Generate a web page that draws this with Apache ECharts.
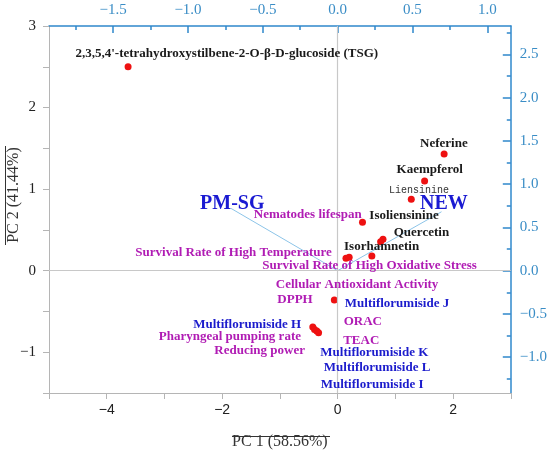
<!DOCTYPE html>
<html lang="en">
<head>
  <meta charset="UTF-8">
  <title>PCA biplot</title>
  <style>
    html, body { margin:0; padding:0; background:#fff; }
    #biplot { width:550px; height:457px; }
  </style>
</head>
<body>
  <div id="biplot"></div>
  <script src="https://cdn.jsdelivr.net/npm/echarts@6/dist/echarts.min.js"></script>
  <script>
    // sample scores (PC1, PC2) - red dots
    var scores = [
      [-3.63, 2.50], [1.845, 1.43], [1.507, 1.10], [1.276, 0.876],
      [0.431, 0.594], [0.786, 0.385], [0.745, 0.356], [0.593, 0.18],
      [0.145, 0.152], [0.20, 0.164], [-0.057, -0.36],
      [-0.43, -0.69], [-0.40, -0.72], [-0.36, -0.74], [-0.33, -0.76]
    ]
    // loading vectors, read on the top / right axes
    var pmsgLoading = [[0, 0], [-0.713, 0.72]]
    var newLoading = [[0, 0], [0.694, 0.681]]

    // label anchors [PC1, PC2, text]
    var blackLabels = [
      [-1.92, 2.667, "2,3,5,4'-tetrahydroxystilbene-2-O-β-D-glucoside (TSG)"],
      [1.84, 1.554, 'Neferine'],
      [1.595, 1.244, 'Kaempferol'],
      [1.15, 0.671, 'Isoliensinine'],
      [1.452, 0.466, 'Quercetin'],
      [0.762, 0.294, 'Isorhamnetin']
    ]
    var monoLabels = [[1.408, 0.99, 'Liensinine']]
    var purpleLabels = [
      [-0.517, 0.683, 'Nematodes lifespan'],
      [-1.803, 0.226, 'Survival Rate of High Temperature'],
      [0.552, 0.061, 'Survival Rate of High Oxidative Stress'],
      [0.337, -0.175, 'Cellular Antioxidant Activity'],
      [-0.738, -0.36, 'DPPH'],
      [0.437, -0.626, 'ORAC'],
      [0.409, -0.859, 'TEAC'],
      [-1.867, -0.81, 'Pharyngeal pumping rate'],
      [-1.35, -0.98, 'Reducing power']
    ]
    var blueLabels = [
      [-1.566, -0.658, 'Multiflorumiside H'],
      [1.029, -0.40, 'Multiflorumiside J'],
      [0.636, -1.00, 'Multiflorumiside K'],
      [0.684, -1.19, 'Multiflorumiside L'],
      [0.598, -1.402, 'Multiflorumiside I']
    ]
    var groupLabels = [[-1.824, 0.818, 'PM-SG'], [1.84, 0.818, 'NEW']]

    var topMajor = [-1.5, -1, -0.5, 0, 0.5, 1]
    var topMinor = [-1.75, -1.25, -0.75, -0.25, 0.25, 0.75]
    var rightMajor = [-1, -0.5, 0, 0.5, 1, 1.5, 2, 2.5]
    var rightMinor = [-1.25, -0.75, -0.25, 0.25, 0.75, 1.25, 1.75, 2.25, 2.75]

    var serif = 'Liberation Serif'
    var blueAxis = '#2f88cc'
    var blueText = '#3a8dc6'
    var gray = '#b5b5b5'

    function minus(s) { return String(s).replace('-', '\u2212') }

    function textSeries(data, style) {
      return {
        type: 'scatter',
        symbolSize: 0,
        silent: true,
        z: 5,
        itemStyle: { opacity: 1 },
        data: data,
        label: Object.assign({
          show: true,
          position: 'inside',
          formatter: function (p) { return p.data[2] },
          fontFamily: serif,
          fontWeight: 'bold',
          fontSize: 13,
          textBorderWidth: 0,
          opacity: 1
        }, style)
      }
    }

    var chart = echarts.init(document.getElementById('biplot'))
    var option = {
      animation: false,
      grid: { left: 49, right: 37, top: 26, bottom: 64 },
      xAxis: [
        {
          type: 'value', position: 'bottom', min: -5, max: 3, interval: 1,
          name: 'PC 1 (58.56%)', nameLocation: 'middle', nameGap: 41,
          nameTextStyle: { fontFamily: serif, fontSize: 16, color: '#333' },
          axisLine: { onZero: false, lineStyle: { color: gray } },
          axisTick: { length: 6, lineStyle: { color: gray } },
          axisLabel: {
            margin: 10, fontFamily: 'Liberation Sans', fontSize: 14, color: '#222',
            formatter: function (v) { return v % 2 === 0 ? minus(v) : '' }
          },
          splitLine: { show: false }
        },
        {
          type: 'value', position: 'top', min: -1.929, max: 1.157,
          axisLine: { onZero: false, lineStyle: { color: blueAxis, width: 1.5 } },
          axisTick: { inside: true, length: 7, customValues: topMajor, lineStyle: { color: blueAxis, width: 1.5 } },
          axisLabel: {
            customValues: topMajor, margin: 8, fontFamily: serif, fontSize: 15, color: blueText,
            formatter: function (v) { return minus(v.toFixed(1)) }
          },
          splitLine: { show: false }
        },
        {
          type: 'value', position: 'top', min: -1.929, max: 1.157,
          axisLine: { show: false, onZero: false },
          axisTick: { inside: true, length: 4, customValues: topMinor, lineStyle: { color: blueAxis, width: 1.5 } },
          axisLabel: { show: false },
          splitLine: { show: false }
        }
      ],
      yAxis: [
        {
          type: 'value', position: 'left', min: -1.5, max: 3, interval: 0.5,
          axisLine: { show: true, onZero: false, lineStyle: { color: gray } },
          axisTick: { show: true, length: 6, lineStyle: { color: gray } },
          axisLabel: {
            margin: 13, fontFamily: serif, fontSize: 15, color: '#222',
            formatter: function (v) { return v % 1 === 0 ? minus(v) : '' }
          },
          splitLine: { show: false }
        },
        {
          type: 'value', position: 'right', min: -1.4142, max: 2.8284,
          axisLine: { show: true, onZero: false, lineStyle: { color: blueAxis, width: 1.5 } },
          axisTick: { show: true, inside: true, length: 8, customValues: rightMajor, lineStyle: { color: blueAxis, width: 1.5 } },
          axisLabel: {
            customValues: rightMajor, margin: 9, fontFamily: serif, fontSize: 15, color: blueText,
            formatter: function (v) { return minus(v.toFixed(1)) }
          },
          splitLine: { show: false }
        },
        {
          type: 'value', position: 'right', min: -1.4142, max: 2.8284,
          axisLine: { show: false, onZero: false },
          axisTick: { show: true, inside: true, length: 4, customValues: rightMinor, lineStyle: { color: blueAxis, width: 1.5 } },
          axisLabel: { show: false },
          splitLine: { show: false }
        }
      ],
      graphic: [
        {
          type: 'text', x: 14, y: 195, rotation: Math.PI / 2,
          style: { text: 'PC 2 (41.44%)', font: '16px "Liberation Serif"', fill: '#333', align: 'center', verticalAlign: 'middle' }
        },
        { type: 'line', shape: { x1: 5.5, y1: 146, x2: 5.5, y2: 245 }, style: { stroke: '#333', lineWidth: 1 } },
        { type: 'line', shape: { x1: 232, y1: 436.5, x2: 330, y2: 436.5 }, style: { stroke: '#333', lineWidth: 1 } }
      ],
      series: [
        {
          type: 'line', xAxisIndex: 1, yAxisIndex: 1, data: pmsgLoading,
          symbol: 'none', silent: true, lineStyle: { color: '#8cc4e8', width: 1 }
        },
        {
          type: 'line', xAxisIndex: 1, yAxisIndex: 1, data: newLoading,
          symbol: 'none', silent: true, lineStyle: { color: '#8cc4e8', width: 1 }
        },
        {
          type: 'scatter', data: scores, symbolSize: 7, z: 4,
          itemStyle: { color: '#ee1111', opacity: 1 },
          markLine: {
            silent: true, symbol: 'none', label: { show: false },
            lineStyle: { color: '#c8c8c8', type: 'solid', width: 1.2 },
            data: [{ xAxis: 0 }, { yAxis: 0 }]
          }
        },
        textSeries(blackLabels, { color: '#1a1a1a' }),
        textSeries(monoLabels, { color: '#333', fontFamily: 'Liberation Mono', fontWeight: 'normal', fontSize: 10 }),
        textSeries(purpleLabels, { color: '#b01cb4' }),
        textSeries(blueLabels, { color: '#1c1ccc' }),
        textSeries(groupLabels, { color: '#1a1ad2', fontSize: 20 })
      ]
    }
    chart.setOption(option)
  </script>
</body>
</html>
